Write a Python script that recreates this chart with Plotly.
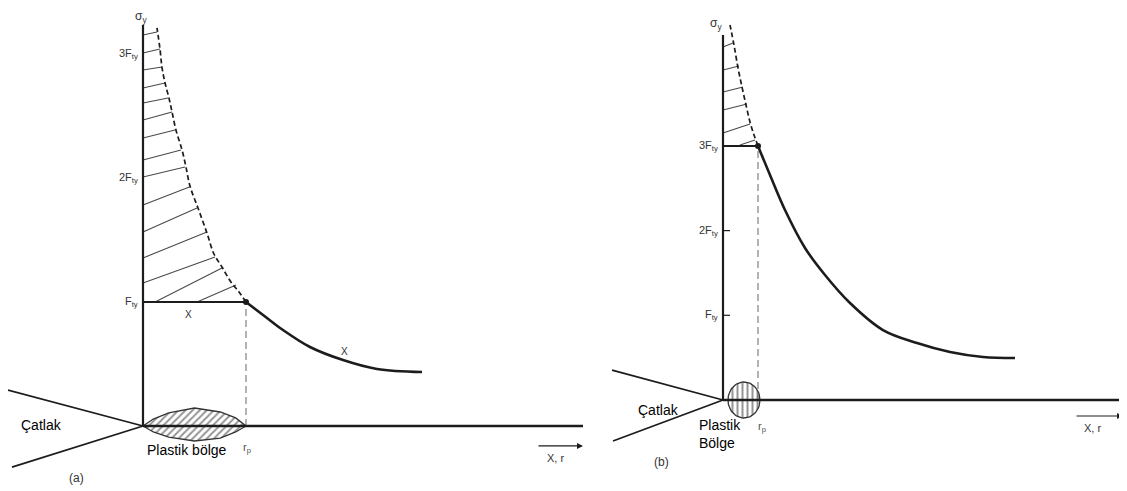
import numpy as np
import plotly.graph_objects as go

# ---------------- Panel (a) data: r in units of r_p, sigma in units of F_ty ----------------
a_elastic_r = [1.0, 1.204, 1.359, 1.621, 1.942, 2.272, 2.709]
a_elastic_s = [1.0, 0.871, 0.774, 0.637, 0.532, 0.460, 0.435]

a_dashed_r = [1.0, 0.932, 0.854, 0.767, 0.689, 0.621, 0.534, 0.456, 0.417, 0.379, 0.320, 0.282, 0.252, 0.214, 0.184, 0.165, 0.136]
a_dashed_s = [1.0, 1.081, 1.161, 1.282, 1.387, 1.556, 1.758, 1.935, 2.089, 2.226, 2.387, 2.532, 2.645, 2.766, 2.895, 3.040, 3.210]

a_hatch_r0 = [0, 0, 0, 0, 0, 0, 0, 0, 0, 0, 0, 0, 0, 0.117, 0.524]
a_hatch_s0 = [3.153, 3.008, 2.871, 2.726, 2.605, 2.468, 2.323, 2.145, 2.008, 1.782, 1.565, 1.355, 1.153, 1.0, 1.0]
a_hatch_r1 = [0.136, 0.165, 0.184, 0.214, 0.243, 0.282, 0.311, 0.369, 0.408, 0.450, 0.524, 0.621, 0.699, 0.767, 0.903]
a_hatch_s1 = [3.177, 3.040, 2.895, 2.766, 2.645, 2.532, 2.387, 2.226, 2.089, 1.927, 1.758, 1.565, 1.363, 1.274, 1.137]

a_zone_r = [0, 0.1, 0.25, 0.5, 0.75, 0.9, 1.0]
a_zone_up = [0, 0.056, 0.105, 0.145, 0.113, 0.065, 0]
a_zone_dn = [0, -0.048, -0.089, -0.121, -0.097, -0.048, 0]

a_crack_r = [-1.311, 0, -1.272]
a_crack_s = [0.290, 0, -0.331]
a_axis_top = 3.234
a_base_end = 4.272
a_levels = [1, 2, 3]
a_level_labels = ["F<sub>ty</sub>", "2F<sub>ty</sub>", "3F<sub>ty</sub>"]

# ---------------- Panel (b) data ----------------
b_elastic_r = [1.0, 1.343, 1.771, 2.343, 2.914, 3.629, 4.571, 5.543, 6.486, 7.429, 8.343]
b_elastic_s = [3.0, 2.656, 2.243, 1.795, 1.476, 1.145, 0.826, 0.673, 0.567, 0.508, 0.496]

b_dashed_r = [1.0, 0.886, 0.771, 0.657, 0.543, 0.429, 0.314, 0.2]
b_dashed_s = [3.0, 3.129, 3.282, 3.483, 3.695, 3.920, 4.191, 4.427]

b_hatch_r0 = [0, 0, 0, 0, 0, 0.486]
b_hatch_s0 = [4.168, 3.896, 3.636, 3.424, 3.152, 3.01]
b_hatch_r1 = [0.286, 0.457, 0.571, 0.686, 0.771, 0.914]
b_hatch_s1 = [4.215, 3.943, 3.695, 3.495, 3.259, 3.07]

b_zone_center_r = 0.6
b_zone_radius_r = 0.457
b_zone_radius_s = 0.2125

b_crack_r = [-3.171, 0, -3.143]
b_crack_s = [0.354, 0, -0.484]
b_axis_top = 4.31
b_base_end = 11.43
b_levels = [1, 2, 3]
b_level_labels = ["F<sub>ty</sub>", "2F<sub>ty</sub>", "3F<sub>ty</sub>"]

INK = "#1c1c1c"
GRAY = "#4a4a4a"

fig = go.Figure()


def segs(r0, s0, r1, s1):
    xs, ys = [], []
    for a, b, c, d in zip(r0, s0, r1, s1):
        xs += [a, c, None]
        ys += [b, d, None]
    return xs, ys


def add_panel(xa, ya, elastic_r, elastic_s, dashed_r, dashed_s, h_r0, h_s0, h_r1, h_s1,
              zone_x, zone_y, zone_pattern, crack_r, crack_s, axis_top, base_end, yield_level):
    kw = dict(xaxis=xa, yaxis=ya, showlegend=False, hoverinfo="skip")
    fig.add_trace(go.Scatter(x=zone_x, y=zone_y, mode="lines", fill="toself",
                             fillcolor="white",
                             fillpattern=dict(shape=zone_pattern, fgcolor="#2a2a2a", bgcolor="white",
                                              size=5, solidity=0.4),
                             line=dict(color="#333333", width=1.3), **kw))
    hx, hy = segs(h_r0, h_s0, h_r1, h_s1)
    fig.add_trace(go.Scatter(x=hx, y=hy, mode="lines", line=dict(color=GRAY, width=1.1), **kw))
    fig.add_trace(go.Scatter(x=dashed_r, y=dashed_s, mode="lines", line_shape="spline",
                             line=dict(color=INK, width=1.7, dash="5px,3px"), **kw))
    fig.add_trace(go.Scatter(x=[1, 1], y=[0, yield_level], mode="lines",
                             line=dict(color="#666666", width=1, dash="7px,4px"), **kw))
    fig.add_trace(go.Scatter(x=[0, 1], y=[yield_level, yield_level], mode="lines",
                             line=dict(color=INK, width=2), **kw))
    fig.add_trace(go.Scatter(x=elastic_r, y=elastic_s, mode="lines", line_shape="spline",
                             line=dict(color=INK, width=2.6), **kw))
    fig.add_trace(go.Scatter(x=[1], y=[yield_level], mode="markers",
                             marker=dict(color=INK, size=6), **kw))
    fig.add_trace(go.Scatter(x=crack_r, y=crack_s, mode="lines", line=dict(color=INK, width=1.8), **kw))
    fig.add_trace(go.Scatter(x=[0, 0], y=[0, axis_top], mode="lines", line=dict(color=INK, width=2.2), **kw))
    fig.add_trace(go.Scatter(x=[0, base_end], y=[0, 0], mode="lines", line=dict(color=INK, width=2.6), **kw))


zx_a = a_zone_r + a_zone_r[::-1]
zy_a = a_zone_up + a_zone_dn[::-1]
add_panel("x", "y", a_elastic_r, a_elastic_s, a_dashed_r, a_dashed_s,
          a_hatch_r0, a_hatch_s0, a_hatch_r1, a_hatch_s1, zx_a, zy_a, "/",
          a_crack_r, a_crack_s, a_axis_top, a_base_end, 1.0)

t = np.linspace(0, 2 * np.pi, 60)
zx_b = list(b_zone_center_r + b_zone_radius_r * np.cos(t))
zy_b = list(b_zone_radius_s * np.sin(t))
add_panel("x2", "y2", b_elastic_r, b_elastic_s, b_dashed_r, b_dashed_s,
          b_hatch_r0, b_hatch_s0, b_hatch_r1, b_hatch_s1, zx_b, zy_b, "|",
          b_crack_r, b_crack_s, b_axis_top, b_base_end, 3.0)

tx, ty = segs([0, 0], [1, 2], [0.2, 0.2], [1, 2])
fig.add_trace(go.Scatter(x=tx, y=ty, mode="lines", line=dict(color=INK, width=1.2),
                         xaxis="x2", yaxis="y2", showlegend=False, hoverinfo="skip"))

SCAN = dict(family="Liberation Sans, Arial, sans-serif", size=11, color="#333333")
LAB = dict(family="Liberation Sans, Arial, sans-serif", size=14, color="#000000")

ann = []


def A(text, x, y, xr, yr, font, xanchor="center", yanchor="middle"):
    ann.append(dict(text=text, x=x, y=y, xref=xr, yref=yr, showarrow=False,
                    font=font, xanchor=xanchor, yanchor=yanchor))


A("σ<sub>y</sub>", -0.02, 3.30, "x", "y", dict(SCAN, size=12))
for lv, lb in zip(a_levels, a_level_labels):
    A(lb, -0.03, lv, "x", "y", SCAN, xanchor="right")
A("X", 0.437, 0.90, "x", "y", dict(SCAN, size=10))
A("X", 1.961, 0.597, "x", "y", dict(SCAN, size=10))
A("Çatlak", -0.981, 0.008, "x", "y", LAB)
A("Plastik bölge", 0.427, -0.194, "x", "y", LAB)
A("r<sub>p</sub>", 1.01, -0.177, "x", "y", dict(SCAN, size=11, color="#555555"))
A("(a)", -0.641, -0.419, "x", "y", dict(SCAN, size=12))
A("X, r", 4.0, -0.258, "x", "y", dict(SCAN, size=11))

A("σ<sub>y</sub>", -0.2, 4.44, "x2", "y2", dict(SCAN, size=12))
for lv, lb in zip(b_levels, b_level_labels):
    A(lb, -0.08, lv, "x2", "y2", SCAN, xanchor="right")
A("Çatlak", -1.857, -0.118, "x2", "y2", LAB)
A("Plastik", -0.743, -0.295, "x2", "y2", LAB, xanchor="left")
A("Bölge", -0.743, -0.508, "x2", "y2", LAB, xanchor="left")
A("r<sub>p</sub>", 1.114, -0.319, "x2", "y2", dict(SCAN, size=11, color="#555555"))
A("(b)", -1.743, -0.732, "x2", "y2", dict(SCAN, size=12))
A("X, r", 10.57, -0.331, "x2", "y2", dict(SCAN, size=11))

ann.append(dict(x=4.272, y=-0.161, ax=3.825, ay=-0.161, xref="x", yref="y", axref="x", ayref="y",
                text="", showarrow=True, arrowhead=2, arrowsize=1, arrowwidth=1.2, arrowcolor=INK))
ann.append(dict(x=11.43, y=-0.189, ax=10.057, ay=-0.189, xref="x2", yref="y2", axref="x2", ayref="y2",
                text="", showarrow=True, arrowhead=2, arrowsize=1, arrowwidth=1.2, arrowcolor=INK))

# page body adds an 8px margin: the figure covers screen pixels 8..1127 x 8..491
OFF = 8
W, H = 1127 - OFF, 491 - OFF
SPLIT_PX = 600
split = (SPLIT_PX - OFF) / W
hidden = dict(visible=False, showgrid=False, zeroline=False, fixedrange=True)
fig.update_layout(
    width=W, height=H,
    margin=dict(l=0, r=0, t=0, b=0),
    paper_bgcolor="white", plot_bgcolor="white",
    xaxis=dict(hidden, domain=[0, split], range=[(OFF - 143) / 103, (SPLIT_PX - 143) / 103]),
    yaxis=dict(hidden, domain=[0, 1], range=[(426 - 491) / 124, (426 - OFF) / 124]),
    xaxis2=dict(hidden, domain=[split, 1], range=[(SPLIT_PX - 723) / 35, (1127 - 723) / 35], anchor="y2"),
    yaxis2=dict(hidden, domain=[0, 1], range=[(400 - 491) / 84.7, (400 - OFF) / 84.7], anchor="x2"),
    annotations=ann,
)

fig.write_html("out.html")
